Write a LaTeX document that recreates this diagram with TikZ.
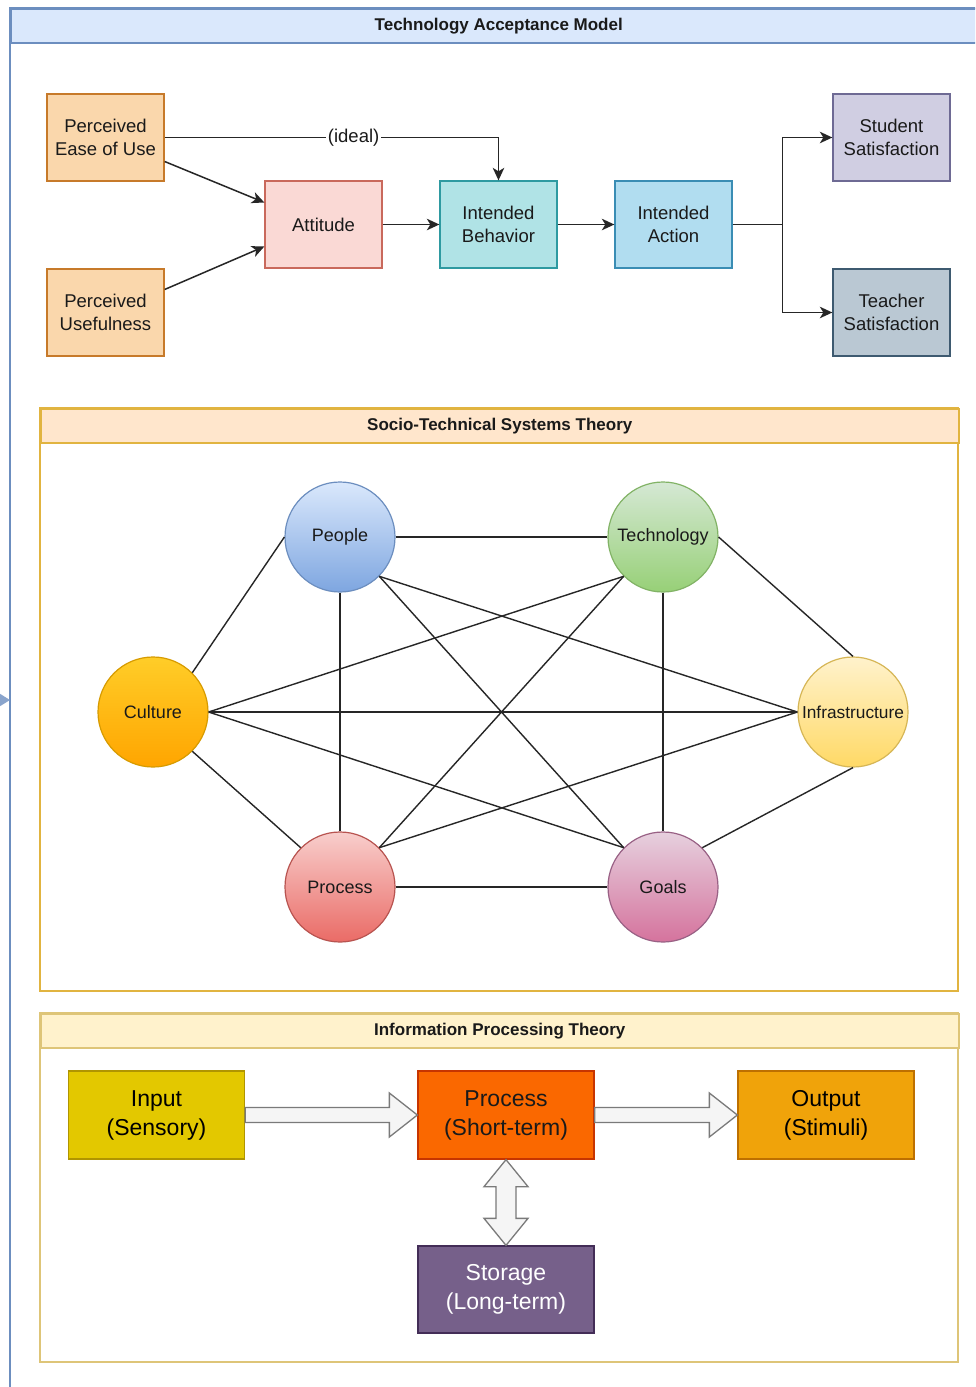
\documentclass[tikz,border=0pt]{standalone}
\usepackage{fontspec}
\setmainfont{Liberation Sans}
\usetikzlibrary{arrows.meta,calc}

% palette
\definecolor{blueF}{HTML}{DAE8FC}\definecolor{blueS}{HTML}{6C8EBF}
\definecolor{orangeF}{HTML}{FFE6CC}\definecolor{orangeS}{HTML}{D79B00}
\definecolor{yellowF}{HTML}{FFF2CC}\definecolor{yellowS}{HTML}{D6B656}
\definecolor{peachF}{HTML}{FAD7AC}\definecolor{peachS}{HTML}{C77A2A}
\definecolor{roseF}{HTML}{FAD9D5}\definecolor{roseS}{HTML}{C9695C}
\definecolor{tealF}{HTML}{B0E3E6}\definecolor{tealS}{HTML}{2E9AA1}
\definecolor{skyF}{HTML}{B1DDF0}\definecolor{skyS}{HTML}{3A8DB4}
\definecolor{lilacF}{HTML}{D0CEE2}\definecolor{lilacS}{HTML}{6E6A94}
\definecolor{slateF}{HTML}{BAC8D3}\definecolor{slateS}{HTML}{3E5A70}
\definecolor{inF}{HTML}{E3C800}\definecolor{inS}{HTML}{B09500}
\definecolor{prF}{HTML}{FA6800}\definecolor{prS}{HTML}{C73500}
\definecolor{outF}{HTML}{F0A30A}\definecolor{outS}{HTML}{BD7000}
\definecolor{stF}{HTML}{76608A}\definecolor{stS}{HTML}{432D57}
\definecolor{ink}{HTML}{1A1A1A}
\definecolor{wire}{HTML}{262626}
\definecolor{grayF}{HTML}{F5F5F5}\definecolor{grayS}{HTML}{7A7A7A}
% circle gradients
\definecolor{peopleB}{HTML}{7EA6E0}
\definecolor{techS}{HTML}{82B366}\definecolor{techT}{HTML}{D5E8D4}\definecolor{techB}{HTML}{97D077}
\definecolor{cultT}{HTML}{FFCD28}\definecolor{cultB}{HTML}{FFA500}
\definecolor{infraB}{HTML}{FFD966}
\definecolor{procS}{HTML}{B85450}\definecolor{procT}{HTML}{F8CECC}\definecolor{procB}{HTML}{EA6B66}
\definecolor{goalS}{HTML}{996185}\definecolor{goalT}{HTML}{E6D0DE}\definecolor{goalB}{HTML}{D5739D}

\newcommand\boxfont{\fontsize{18.5}{23}\selectfont}
\newcommand\circfont{\fontsize{18}{21}\selectfont}
\newcommand\bigfont{\fontsize{23}{29}\selectfont}
\newcommand\hdrfont{\fontsize{17}{20}\selectfont\bfseries}

\tikzset{
  tambox/.style={rectangle, line width=1.3, minimum width=117, minimum height=87,
    inner sep=0, align=center, font=\boxfont, text=ink},
  ipbox/.style={rectangle, line width=1.3, minimum width=176, minimum height=88,
    inner sep=0, align=center, font=\bigfont},
  circ/.style={circle, minimum size=110, inner sep=0, line width=1.2,
    font=\circfont, text=ink},
  header/.style={rectangle, anchor=north west, minimum height=34, inner sep=0,
    line width=1.5, font=\hdrfont, text=ink},
  arr/.style={draw=wire, line width=1.5, -{Stealth[length=12.5, width=11.5, inset=3.5]}},
  link/.style={draw=wire, line width=1.4},
  blockarrow/.style={draw=grayS, fill=grayF, line width=1.3, line join=miter},
}

\begin{document}
\begin{tikzpicture}[x=1pt, y=-1pt]
\useasboundingbox (0,0) rectangle (975,1387);
\clip (0,0) rectangle (975,1387);
\fill[white] (0,0) rectangle (975,1387);

% ---- outer container: Technology Acceptance Model ----
\draw[blueS, line width=1.5, fill=white] (10,8) rectangle (986,1420);
\node[header, fill=blueF, draw=blueS, minimum width=976] (tamh) at (10,8)
  {Technology Acceptance Model};
\coordinate (feed) at (-40,700);
\coordinate (tamwest) at (10,700);
\draw[blueS!80, line width=1.5, -{Triangle[length=10, width=12]}] (feed) -- (tamwest);

% TAM boxes
\node[tambox, fill=peachF, draw=peachS] (peou) at (105.5,137.5) {Perceived\\Ease of Use};
\node[tambox, fill=peachF, draw=peachS] (pu)   at (105.5,312.5) {Perceived\\Usefulness};
\node[tambox, fill=roseF,  draw=roseS]  (att)  at (323.5,224.5) {Attitude};
\node[tambox, fill=tealF,  draw=tealS]  (ib)   at (498.5,224.5) {Intended\\Behavior};
\node[tambox, fill=skyF,   draw=skyS]   (ia)   at (673.5,224.5) {Intended\\Action};
\node[tambox, fill=lilacF, draw=lilacS] (ss)   at (891.5,137.5) {Student\\Satisfaction};
\node[tambox, fill=slateF, draw=slateS] (ts)   at (891.5,312.5) {Teacher\\Satisfaction};

% TAM connectors
\draw[arr] ($(peou.east)+(0,24)$) -- ($(att.west)+(0,-22)$);
\draw[arr] ($(pu.east)+(0,-23)$) -- ($(att.west)+(0,22)$);
\draw[arr] (peou.east) -| node[pos=0.283, fill=white, inner sep=1.5, font=\boxfont, text=ink] (ideal) {(ideal)} (ib.north);
\draw[arr] (att) -- (ib);
\draw[arr] (ib) -- (ia);
\coordinate (split) at ($(ia.east)+(50,0)$);
\draw[link] (ia.east) -- (split);
\draw[arr] (split) |- (ss.west);
\draw[arr] (split) |- (ts.west);

% ---- Socio-Technical Systems Theory ----
\draw[orangeS!75, line width=1.5, fill=white] (40,408) rectangle (958,991);
\node[header, fill=orangeF, draw=orangeS!75, minimum width=918] (stsh) at (40,408)
  {Socio-Technical Systems Theory};

\node[circ, draw=blueS,   top color=blueF,   bottom color=peopleB] (people) at (340,537) {People};
\node[circ, draw=techS,   top color=techT,   bottom color=techB]   (tech)   at (663,537) {Technology};
\node[circ, draw=orangeS, top color=cultT,   bottom color=cultB]   (cult)   at (153,712) {Culture};
\node[circ, draw=yellowS, top color=yellowF, bottom color=infraB, font=\fontsize{17.3}{20}\selectfont]  (infra)  at (853,712) {Infrastructure};
\node[circ, draw=procS,   top color=procT,   bottom color=procB]   (proc)   at (340,887) {Process};
\node[circ, draw=goalS,   top color=goalT,   bottom color=goalB]   (goals)  at (663,887) {Goals};

\draw[link] (people.west) -- (cult.north east);
\draw[link] (people.east) -- (tech.west);
\draw[link] (people.south) -- (proc.north);
\draw[link] (people.south east) -- (infra.west);
\draw[link] (people.south east) -- (goals.north west);
\draw[link] (tech.east) -- (infra.north);
\draw[link] (tech.south) -- (goals.north);
\draw[link] (tech.south west) -- (cult.east);
\draw[link] (tech.south west) -- (proc.north east);
\draw[link] (cult.east) -- (infra.west);
\draw[link] (cult.east) -- (goals.north west);
\draw[link] (cult.south east) -- (proc.north west);
\draw[link] (infra.west) -- (proc.north east);
\draw[link] (infra.south) -- (goals.north east);
\draw[link] (proc.east) -- (goals.west);

% ---- Information Processing Theory ----
\draw[yellowS!80, line width=1.5, fill=white] (40,1013) rectangle (958,1362);
\node[header, fill=yellowF, draw=yellowS!80, minimum width=918] (ipth) at (40,1013)
  {Information Processing Theory};

\node[ipbox, fill=inF,  draw=inS,  text=black] (inp)  at (156.5,1115) {Input\\(Sensory)};
\node[ipbox, fill=prF,  draw=prS,  text=ink]   (prc)  at (506,1115)   {Process\\(Short-term)};
\node[ipbox, fill=outF, draw=outS, text=black] (outp) at (826,1115)   {Output\\(Stimuli)};
\node[ipbox, fill=stF,  draw=stS,  text=white, minimum height=87] (sto) at (506,1289.5) {Storage\\(Long-term)};

% block arrows
\draw[blockarrow] ($(inp.east)+(0,-7.5)$) -- ($(prc.west)+(-28,-7.5)$) -- ($(prc.west)+(-28,-22)$)
  -- (prc.west) -- ($(prc.west)+(-28,22)$) -- ($(prc.west)+(-28,7.5)$) -- ($(inp.east)+(0,7.5)$) -- cycle;
\draw[blockarrow] ($(prc.east)+(0,-7.5)$) -- ($(outp.west)+(-28,-7.5)$) -- ($(outp.west)+(-28,-22)$)
  -- (outp.west) -- ($(outp.west)+(-28,22)$) -- ($(outp.west)+(-28,7.5)$) -- ($(prc.east)+(0,7.5)$) -- cycle;
\draw[blockarrow] (prc.south) -- ($(prc.south)+(22,27)$) -- ($(prc.south)+(10,27)$)
  -- ($(sto.north)+(10,-27)$) -- ($(sto.north)+(22,-27)$) -- (sto.north)
  -- ($(sto.north)+(-22,-27)$) -- ($(sto.north)+(-10,-27)$)
  -- ($(prc.south)+(-10,27)$) -- ($(prc.south)+(-22,27)$) -- cycle;
\end{tikzpicture}
\end{document}
